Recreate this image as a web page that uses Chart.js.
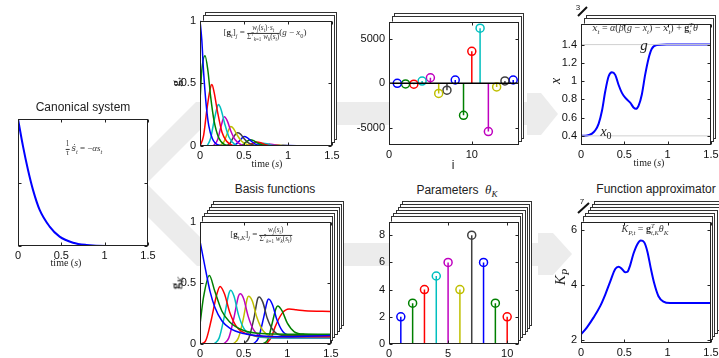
<!DOCTYPE html>
<html><head><meta charset="utf-8">
<script src="https://cdn.jsdelivr.net/npm/chart.js@4.4.0/dist/chart.umd.min.js"></script>
<style>
html,body{margin:0;padding:0;background:#fff;}
#root{position:relative;width:719px;height:358px;overflow:hidden;font-family:"Liberation Sans",Arial,sans-serif;}
canvas{position:absolute;}
svg{position:absolute;left:0;top:0;}
.pg{position:absolute;background:#fff;border:1px solid #333;box-sizing:border-box;}
.t{position:absolute;transform:translate(-50%,-50%);white-space:nowrap;color:#222;line-height:1;}
.ttl{font-size:12px;font-family:"Liberation Sans",Arial,sans-serif;color:#222;}
.eq{font-family:"Liberation Serif","DejaVu Serif",serif;font-size:9px;color:#333;}
.ax{font-family:"Liberation Serif","DejaVu Serif",serif;font-size:10px;color:#222;}
.rot{transform:translate(-50%,-50%) rotate(-90deg);}
.fr{display:inline-flex;flex-direction:column;vertical-align:middle;text-align:center;line-height:1.05;font-size:0.8em;}
.fr>span:first-child{border-bottom:0.7px solid #333;}
.ss{display:inline-flex;flex-direction:column;vertical-align:middle;font-size:0.65em;line-height:1;}
.dj{font-family:"DejaVu Serif",serif;font-size:0.95em;}
sub,sup{font-size:0.7em;line-height:0;}
</style></head><body><div id="root">
<svg width="719" height="358">
  <g fill="#ececec">
    <polygon points="130,168 196,102 541,102 541,125 205,125 130,200"/>
    <polygon points="527,93 541,93 558,114 541,135 527,135"/>
    <polygon points="130,167 206,243 541,243 541,266 197,266 130,199"/>
    <polygon points="538,233 553,233 572,254 553,275 538,275"/>
  </g>
</svg>
</div>
<script>
// ---------------- data ----------------
const lineColors=['#0000ff','#008000','#ff0000','#00bfbf','#bf00bf','#bfbf00','#404040'];
const timeTicks=[0,0.5,1,1.5];
const unitTicks=[0,0.5,1];

// canonical system s_t
const canonT=[0,0.058,0.115,0.173,0.25,0.365,0.48,0.635,0.79,1.02,1.5];
const canonS=[1,0.784,0.6,0.442,0.284,0.153,0.074,0.026,0.008,0,0];

// forcing-term basis [g_t]_j (top)
const forcingBasis=[
 [[0,1],[0.02,0.85],[0.04,0.6],[0.07,0.33],[0.1,0.16],[0.14,0.06],[0.2,0.01],[0.3,0]],
 [[0,0.36],[0.02,0.6],[0.057,0.72],[0.09,0.6],[0.12,0.4],[0.16,0.2],[0.21,0.07],[0.28,0.01],[0.35,0]],
 [[0,0],[0.04,0.08],[0.08,0.3],[0.12,0.47],[0.135,0.49],[0.16,0.43],[0.2,0.27],[0.25,0.11],[0.3,0.04],[0.38,0]],
 [[0.08,0],[0.12,0.06],[0.16,0.2],[0.2,0.32],[0.21,0.33],[0.24,0.29],[0.28,0.18],[0.33,0.07],[0.4,0.01],[0.45,0]],
 [[0.15,0],[0.2,0.05],[0.24,0.16],[0.277,0.233],[0.31,0.2],[0.35,0.12],[0.4,0.05],[0.47,0.01],[0.52,0]],
 [[0.22,0],[0.27,0.03],[0.31,0.1],[0.35,0.155],[0.38,0.14],[0.42,0.09],[0.47,0.04],[0.54,0.01],[0.6,0]],
 [[0.29,0],[0.34,0.02],[0.38,0.07],[0.425,0.105],[0.46,0.095],[0.5,0.06],[0.55,0.025],[0.62,0.005],[0.68,0]],
 [[0.36,0],[0.41,0.015],[0.46,0.05],[0.5,0.076],[0.54,0.065],[0.58,0.04],[0.63,0.015],[0.7,0]],
 [[0.43,0],[0.49,0.012],[0.53,0.035],[0.57,0.05],[0.61,0.043],[0.65,0.025],[0.7,0.01],[0.78,0]],
 [[0.5,0],[0.56,0.008],[0.6,0.022],[0.645,0.032],[0.69,0.026],[0.73,0.014],[0.78,0.005],[0.85,0]],
 [[0.58,0],[0.64,0.006],[0.68,0.015],[0.72,0.022],[0.76,0.018],[0.8,0.009],[0.86,0.002],[0.92,0]],
 [[0.65,0],[0.75,0.01],[0.79,0.015],[0.85,0.008],[0.95,0]],
 [[0.72,0],[0.82,0.007],[0.86,0.01],[0.92,0.005],[1.0,0]],
 [[0.8,0],[0.9,0.004],[0.94,0.006],[1.0,0.003],[1.08,0]],
 [[0.9,0],[1.0,0.003],[1.1,0.002],[1.2,0],[1.5,0]]
];

// weights theta (top stem)
const stemIdx=[1,2,3,4,5,6,7,8,9,10,11,12,13,14,15];
const stemW=[0,-70,-100,250,620,-1130,-770,370,-3580,3580,6170,-5400,-400,260,370];
const stemYTicks=[-5000,0,5000];
const stemXTicks=[0,10];

// trajectory x_t (top right)
const trajT=[0,0.07,0.127,0.165,0.203,0.242,0.28,0.318,0.357,0.395,0.433,0.472,0.51,0.568,0.606,0.633,0.664,0.702,0.74,0.779,0.817,0.875,0.99,1.5];
const trajX=[0.4,0.404,0.425,0.461,0.532,0.675,0.889,1.05,1.096,1.068,0.96,0.871,0.818,0.764,0.711,0.696,0.729,0.854,1.068,1.246,1.354,1.396,1.4,1.4];
const goalX=1.4, startX=0.4;
const trajYTicks=[0.4,0.6,0.8,1,1.2,1.4];

// normalized basis functions [g_t,K]_j (bottom)
const normBasis=[
 [[0,0.84],[0.06,0.62],[0.115,0.43],[0.17,0.3],[0.25,0.19],[0.34,0.13],[0.5,0.085],[0.7,0.065],[1.0,0.06],[1.5,0.07]],
 [[0,0.16],[0.04,0.38],[0.107,0.56],[0.17,0.43],[0.25,0.27],[0.34,0.18],[0.5,0.11],[0.7,0.085],[1.0,0.08],[1.5,0.08]],
 [[0,0],[0.06,0.02],[0.13,0.2],[0.19,0.4],[0.23,0.47],[0.28,0.41],[0.34,0.26],[0.42,0.14],[0.55,0.08],[0.8,0.06],[1.5,0.06]],
 [[0.16,0],[0.22,0.05],[0.28,0.23],[0.33,0.41],[0.352,0.44],[0.39,0.39],[0.44,0.24],[0.5,0.13],[0.6,0.07],[0.8,0.05],[1.5,0.05]],
 [[0.27,0],[0.33,0.05],[0.39,0.22],[0.44,0.39],[0.46,0.41],[0.5,0.37],[0.55,0.23],[0.61,0.12],[0.72,0.06],[1.0,0.05],[1.5,0.05]],
 [[0.38,0],[0.44,0.05],[0.5,0.22],[0.54,0.37],[0.555,0.39],[0.6,0.35],[0.65,0.22],[0.72,0.11],[0.85,0.06],[1.5,0.05]],
 [[0.5,0],[0.56,0.05],[0.62,0.22],[0.66,0.37],[0.677,0.385],[0.72,0.34],[0.77,0.21],[0.84,0.11],[0.95,0.07],[1.5,0.07]],
 [[0.61,0],[0.67,0.05],[0.73,0.22],[0.77,0.35],[0.785,0.367],[0.83,0.32],[0.88,0.2],[0.95,0.1],[1.05,0.07],[1.5,0.065]],
 [[0.72,0],[0.78,0.04],[0.83,0.18],[0.87,0.29],[0.89,0.31],[0.94,0.27],[1.0,0.17],[1.08,0.1],[1.2,0.08],[1.5,0.075]],
 [[0.76,0],[0.82,0.06],[0.86,0.14],[0.94,0.25],[1.02,0.285],[1.1,0.28],[1.2,0.272],[1.5,0.265]]
];

// parameters theta_K (bottom stem)
const thetaIdx=[1,2,3,4,5,6,7,8,9,10];
const thetaK=[2,3,4,5,6,4,8,6,3,2];
const thetaYTicks=[0,2,4,6,8];
const thetaXTicks=[0,5,10];

// function approximator K_P (bottom right)
const kpT=[0,0.069,0.146,0.223,0.28,0.338,0.395,0.434,0.472,0.51,0.537,0.568,0.606,0.652,0.69,0.729,0.767,0.805,0.844,0.894,0.951,1.028,1.5];
const kpV=[2.21,2.47,2.83,3.25,3.66,4.14,4.59,4.67,4.59,4.47,4.49,4.73,5.15,5.5,5.62,5.56,5.21,4.62,4.08,3.6,3.4,3.35,3.35];
const kpYTicks=[2,4,6];

// ---------------- helpers ----------------
const root=document.getElementById('root');
const FONT='"Liberation Sans", Arial, sans-serif';
const col=i=>lineColors[i%lineColors.length];

const framePlugin={id:'frame',
  beforeDraw(ch){const a=ch.chartArea,c=ch.ctx;c.save();c.fillStyle='#fff';c.fillRect(a.left,a.top,a.right-a.left,a.bottom-a.top);c.restore();},
  afterDatasetsDraw(ch){
    const a=ch.chartArea,c=ch.ctx;c.save();
    c.strokeStyle='#222';c.lineWidth=1;
    const L=Math.round(a.left)+0.5,R=Math.round(a.right)-0.5,T=Math.round(a.top)+0.5,B=Math.round(a.bottom)-0.5;
    c.beginPath();
    ch.scales.x.ticks.forEach(t=>{const p=Math.round(ch.scales.x.getPixelForValue(t.value))+0.5;c.moveTo(p,B);c.lineTo(p,B-3);c.moveTo(p,T);c.lineTo(p,T+3);});
    ch.scales.y.ticks.forEach(t=>{const p=Math.round(ch.scales.y.getPixelForValue(t.value))+0.5;c.moveTo(L,p);c.lineTo(L+3,p);c.moveTo(R,p);c.lineTo(R-3,p);});
    c.stroke();
    c.strokeRect(L,T,R-L,B-T);
    c.restore();
  }
};

function pages(p,n,dx,dy){
  for(let k=n;k>=1;k--){
    const d=document.createElement('div');d.className='pg';
    d.style.left=(p.l+k*dx)+'px';d.style.top=(p.t+k*dy)+'px';
    d.style.width=p.w+'px';d.style.height=p.h+'px';
    root.appendChild(d);
  }
}

function panel(p){
  const yW=40,xH=24,padT=8,padR=12;
  const c=document.createElement('canvas');
  const W=yW+p.w+padR,H=padT+p.h+xH;
  c.width=W;c.height=H;
  c.style.left=(p.l-yW)+'px';c.style.top=(p.t-padT)+'px';
  c.style.width=W+'px';c.style.height=H+'px';
  root.appendChild(c);
  const tk=(arr)=>s=>{s.ticks=arr.map(v=>({value:v}));};
  return new Chart(c,{type:'scatter',data:{datasets:p.ds},options:{
    responsive:false,animation:false,devicePixelRatio:1,
    layout:{padding:{top:padT,right:padR,left:0,bottom:0}},
    plugins:{legend:{display:false},tooltip:{enabled:false}},
    events:[],
    scales:{
      x:{type:'linear',min:p.xr[0],max:p.xr[1],afterFit:s=>{s.height=xH;},afterBuildTicks:tk(p.xt),
         grid:{display:false,drawTicks:false},border:{display:false},
         ticks:{padding:3,color:'#111',font:{size:11,family:FONT},maxRotation:0,autoSkip:false,callback:v=>String(v)}},
      y:{type:'linear',min:p.yr[0],max:p.yr[1],afterFit:s=>{s.width=yW;},afterBuildTicks:tk(p.yt),
         grid:{display:false,drawTicks:false},border:{display:false},
         ticks:{display:p.ylab!==false,padding:4,color:'#111',font:{size:11,family:FONT},autoSkip:false,callback:v=>String(v)}}
    }
  },plugins:[framePlugin]});
}

const curvePairs=(pts,color,w)=>({data:pts.map(([x,y])=>({x,y})),showLine:true,borderColor:color,borderWidth:w,pointRadius:0,cubicInterpolationMode:'monotone',fill:false});
const curveXY=(ts,vs,color,w)=>curvePairs(ts.map((t,i)=>[t,vs[i]]),color,w);
const hline=(v,x0,x1,color,w)=>({data:[{x:x0,y:v},{x:x1,y:v}],showLine:true,borderColor:color,borderWidth:w,pointRadius:0});
const stems=(idx,vals)=>idx.map((i,k)=>({data:[{x:i,y:0},{x:i,y:vals[k]}],showLine:true,borderColor:col(k),borderWidth:1.5,
   pointRadius:[0,4],pointBorderColor:col(k),pointBackgroundColor:'rgba(0,0,0,0)',pointBorderWidth:1.5}));

// ---------------- panels ----------------
const P1={l:18,t:119,w:130,h:127,xr:[0,1.5],yr:[0,1],xt:timeTicks,yt:[0,0.5,1],ylab:false,
  ds:[curveXY(canonT,canonS,'#0000ff',2)]};
const P2={l:200,t:18,w:132,h:128,xr:[0,1.5],yr:[0,1],xt:timeTicks,yt:unitTicks,
  ds:forcingBasis.map((c,i)=>curvePairs(c,col(i),1.5))};
const P3={l:389,t:19,w:130,h:126,xr:[0,15.7],yr:[-6900,6900],xt:stemXTicks,yt:stemYTicks,
  ds:[hline(0,0,15.7,'#000',1.5)].concat(stems(stemIdx,stemW))};
const P4={l:581,t:21,w:130,h:124,xr:[0,1.5],yr:[0.3,1.63],xt:timeTicks,yt:trajYTicks,
  ds:[hline(goalX,0,1.5,'#d0d0d0',1),hline(startX,0,1.5,'#d0d0d0',1),curveXY(trajT,trajX,'#0000ff',2)]};
const P5={l:200,t:219,w:131,h:125,xr:[0,1.5],yr:[0,1],xt:timeTicks,yt:unitTicks,
  ds:normBasis.map((c,i)=>curvePairs(c,col(i),1.5))};
const P6={l:389,t:219,w:130,h:125,xr:[0,11],yr:[0,9],xt:thetaXTicks,yt:thetaYTicks,
  ds:stems(thetaIdx,thetaK)};
const P7={l:581,t:219,w:130,h:124,xr:[0,1.5],yr:[1.9,6.31],xt:timeTicks,yt:kpYTicks,
  ds:[curveXY(kpT,kpV,'#0000ff',2)]};

pages(P2,2,2.7,-3);pages(P3,2,2.5,-3.2);pages(P4,2,2.5,-3.2);
pages(P5,6,2.2,-3);pages(P6,6,2.2,-3);pages(P7,6,2.2,-3);
[P1,P2,P3,P4,P5,P6,P7].forEach(panel);

// ---------------- text overlays ----------------
function txt(x,y,cls,html){const d=document.createElement('div');d.className='t '+cls;d.style.left=x+'px';d.style.top=y+'px';d.innerHTML=html;root.appendChild(d);}
txt(83,107,'ttl','Canonical system');
txt(275,189,'ttl','Basis functions');
txt(457,189,'ttl','Parameters&nbsp; <i style="font-family:\'Liberation Serif\',serif;font-size:13px">θ<sub>K</sub></i>');
txt(656,189,'ttl','Function approximator');
txt(66,263,'ax','time (<i>s</i>)');
txt(267,164,'ax','time (<i>s</i>)');
txt(649,163,'ax','time (<i>s</i>)');
txt(453,165,'ttl','i');
txt(84,149,'eq','<span class="fr"><span>1</span><span><i>τ</i></span></span> <i><span class="dj">ṡ</span><sub>t</sub></i> = −<i>αs<sub>t</sub></i>');
txt(265,33,'eq','[<b>g</b><sub><i>t</i></sub>]<sub><i>j</i></sub> = <span class="fr"><span><i>w<sub>j</sub></i>(<i>s<sub>t</sub></i>)·<i>s<sub>t</sub></i></span><span>Σ<sup>7</sup><sub><i>k</i>=1</sub> <i>w<sub>k</sub></i>(<i>s<sub>t</sub></i>)</span></span>(<i>g</i> − <i>x</i><sub>0</sub>)');
txt(645,28,'eq','<span style="font-size:10px"><i><span class="dj">ẍ</span><sub>t</sub></i> = <i>α</i>(<i>β</i>(<i>g</i> − <i>x<sub>t</sub></i>) − <i><span class="dj">ẋ</span><sub>t</sub></i>) + <b>g</b><span class="ss"><i>T</i><i>t</i></span><i>θ</i></span>');
txt(261,235,'eq','[<b>g</b><sub><i>t,K</i></sub>]<sub><i>j</i></sub> = <span class="fr"><span><i>w<sub>j</sub></i>(<i>s<sub>t</sub></i>)</span><span>Σ<sup>7</sup><sub><i>k</i>=1</sub> <i>w<sub>k</sub></i>(<i>s<sub>t</sub></i>)</span></span>');
txt(645,229,'eq','<span style="font-size:10px"><i>K<sub>P,t</sub></i> = <b>g</b><span class="ss"><i>T</i><i>t,K</i></span><i>θ<sub>K</sub></i></span>');
txt(175,82,'ax rot','<span style="font-size:13px"><b>g</b><sub><i>t</i></sub></span>');
txt(175,283,'ax rot','<span style="font-size:13px"><b>g</b><sub><i>K</i></sub></span>');
txt(556,81,'ax rot','<i style="font-size:14px">x</i>');
txt(560,277,'ax rot','<span style="font-size:15px"><i>K<sub>P</sub></i></span>');
txt(644,45,'ax','<i style="font-size:15px">g</i>');
txt(606,132,'ax','<i style="font-size:14px">x</i><sub style="font-size:10px">0</sub>');
// stack counters
txt(578,6,'ttl','<span style="font-size:8px">3</span>');
txt(582,200,'ttl','<span style="font-size:8px">7</span>');
const s=document.querySelector('svg');
s.insertAdjacentHTML('beforeend','<line x1="578" y1="16" x2="587" y2="7" stroke="#111" stroke-width="2"/><line x1="578" y1="213" x2="589" y2="203" stroke="#111" stroke-width="2"/>');
</script>
</body></html>
